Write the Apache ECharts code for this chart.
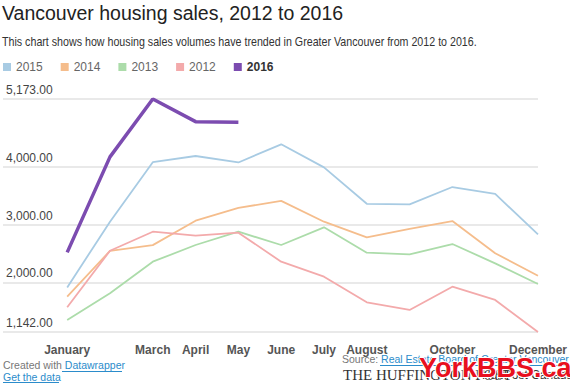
<!DOCTYPE html>
<html>
<head>
<meta charset="utf-8">
<script src="https://cdn.jsdelivr.net/npm/echarts@6/dist/echarts.min.js"></script>
<style>
html,body{margin:0;padding:0;background:#fff;}
#chart{width:570px;height:383px;}
</style>
</head>
<body>
<div id="chart"></div>
<script>
const months = ['January','February','March','April','May','June','July','August','September','October','November','December'];
const shownMonthIdx = [0,2,3,4,5,6,7,9,11];
const yTicks = [1142, 2000, 3000, 4000, 5173];
const seriesNames = ['2015','2014','2013','2012','2016'];
const s2015 = [1913, 3051, 4080, 4187, 4075, 4389, 3990, 3360, 3350, 3650, 3530, 2830];
const s2014 = [1755, 2545, 2645, 3068, 3290, 3410, 3050, 2780, 2925, 3062, 2505, 2115];
const s2013 = [1350, 1811, 2358, 2647, 2877, 2647, 2953, 2514, 2486, 2664, 2330, 1972];
const s2012 = [1569, 2548, 2877, 2808, 2860, 2358, 2099, 1655, 1523, 1926, 1696, 1142];
const s2016 = [2519, 4172, 5173, 4781, 4769];

const colors = {'2015':'#a8cbe3','2014':'#f5bd8c','2013':'#acdcaa','2012':'#f3aaab','2016':'#7c4cb0'};
const values = {'2015':s2015,'2014':s2014,'2013':s2013,'2012':s2012,'2016':s2016};
const FONT = 'Liberation Sans, Arial, sans-serif';

const chart = echarts.init(document.getElementById('chart'), null, {renderer:'svg'});

const series = seriesNames.map(n => ({
  name: n,
  type: 'line',
  data: values[n].map((v,i) => [i, v]),
  showSymbol: false,
  symbol: 'none',
  lineStyle: {color: colors[n], width: n === '2016' ? 3.5 : 1.8},
  itemStyle: {color: colors[n]},
  z: n === '2016' ? 5 : 2,
  emphasis: {disabled: true}
}));

chart.setOption({
  animation: false,
  textStyle: {fontFamily: FONT},
  title: [
    {text: 'Vancouver housing sales, 2012 to 2016', left: 2, top: 3, padding: 0,
     textStyle: {fontSize: 19.5, fontWeight: 'normal', color: '#222', fontFamily: FONT}}
  ],
  legend: {
    left: 3, top: 61, padding: 0,
    icon: 'rect', itemWidth: 8, itemHeight: 8, itemGap: 18,
    textStyle: {fontSize: 12, color: '#666', fontFamily: FONT},
    data: seriesNames.map(n => n === '2016'
      ? {name: n, textStyle: {fontWeight: 'bold', color: '#333'}}
      : {name: n}),
    selectedMode: false
  },
  grid: {left: 0, right: 22, top: 99, bottom: 51, containLabel: false},
  xAxis: {
    type: 'value', min: -1.5, max: 11, interval: 0.5,
    axisLine: {show: false}, axisTick: {show: false}, splitLine: {show: false},
    axisLabel: {
      margin: 12, fontSize: 12, fontWeight: 'bold', color: '#555', fontFamily: FONT,
      showMinLabel: true, showMaxLabel: true, hideOverlap: false,
      formatter: v => (Number.isInteger(v) && shownMonthIdx.includes(v)) ? months[v] : ''
    }
  },
  yAxis: {
    type: 'value', min: 1142, max: 5173,
    axisLine: {show: false},
    axisTick: {show: false, customValues: yTicks},
    splitLine: {show: true, lineStyle: {color: '#e2e2e2', width: 1.5}},
    axisLabel: {
      customValues: yTicks,
      inside: true, margin: 3, fontSize: 12, color: '#444', fontFamily: FONT,
      verticalAlign: 'bottom', padding: [0,0,3,0],
      formatter: v => v.toLocaleString('en-US', {minimumFractionDigits: 2, maximumFractionDigits: 2})
    }
  },
  series: series,
  graphic: [
    {type: 'text', x: 2, y: 36, scaleX: 0.89, style: {
      text: 'This chart shows how housing sales volumes have trended in Greater Vancouver from 2012 to 2016.',
      fill: '#333', font: '12px ' + FONT}},
    {type: 'text', left: 3, top: 359, style: {
      text: '{g|Created with }{l|Datawrapper}', font: '10.5px ' + FONT,
      rich: {g: {fill: '#777', fontSize: 10.5, fontFamily: FONT}, l: {fill: '#2b8ccb', fontSize: 10.5, fontFamily: FONT}}}},
    {type: 'line', shape: {x1: 62, y1: 371.5, x2: 122, y2: 371.5}, style: {stroke: '#2b8ccb', lineWidth: 1}},
    {type: 'text', left: 3, top: 371, style: {text: 'Get the data', fill: '#2b8ccb', font: '10.5px ' + FONT}},
    {type: 'line', shape: {x1: 3, y1: 382.5, x2: 59, y2: 382.5}, style: {stroke: '#2b8ccb', lineWidth: 1}},
    {type: 'text', left: 342, top: 353, style: {
      text: '{g|Source: }{l|Real Estate Board of Greater Vancouver}', font: '10.5px ' + FONT,
      rich: {g: {fill: '#777', fontSize: 10.5, fontFamily: FONT}, l: {fill: '#2b8ccb', fontSize: 10.5, fontFamily: FONT}}}},
    {type: 'line', shape: {x1: 380, y1: 365.5, x2: 570, y2: 365.5}, style: {stroke: '#2b8ccb', lineWidth: 1}},
    {type: 'text', left: 343, top: 367, style: {text: 'THE HUFFINGTON POST', fill: '#333', font: '15px Liberation Serif, serif'}},
    {type: 'text', left: 482, top: 369, style: {text: 'HuffPost Canada', fill: '#333', font: '12px ' + FONT}},
    {type: 'text', left: 418, top: 353, z: 100, style: {text: 'YorkBBS.ca', fill: '#e8101e', stroke: '#fff', lineWidth: 2, font: 'bold 27px ' + FONT}}
  ]
});
</script>
</body>
</html>
